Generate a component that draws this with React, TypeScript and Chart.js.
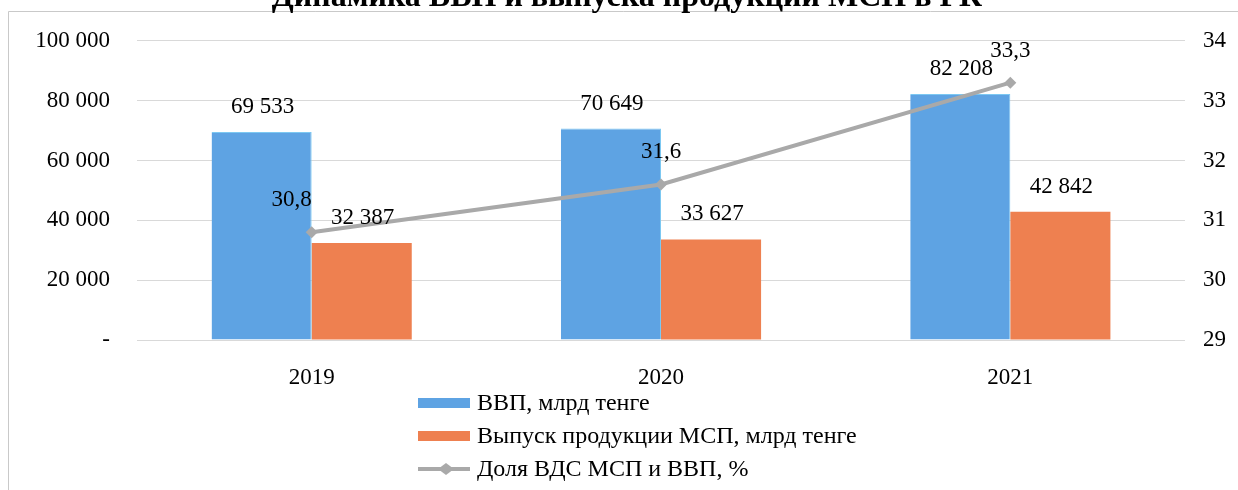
import React, { useEffect, useRef } from "react";
import { Chart, registerables } from "chart.js";

Chart.register(...registerables);

const TITLE = "Динамика ВВП и выпуска продукции МСП в РК";
const CATEGORIES = ["2019", "2020", "2021"];
const GDP = [69533, 70649, 82208];
const SME_OUTPUT = [32387, 33627, 42842];
const SME_SHARE = [30.8, 31.6, 33.3];
const SERIES_NAMES = [
  "ВВП, млрд тенге",
  "Выпуск продукции МСП, млрд тенге",
  "Доля ВДС МСП и ВВП, %",
];

const BLUE = "#5EA3E3";
const ORANGE = "#EE8050";
const GRAY = "#A9A9A9";
const FONT = '"Liberation Serif", "Times New Roman", serif';

const fmtThousands = (v: number) =>
  v === 0 ? "-" : Math.round(v).toString().replace(/\B(?=(\d{3})+(?!\d))/g, " ");
const fmtComma = (v: number) => v.toFixed(1).replace(".", ",");

const decorPlugin = {
  id: "decor",
  beforeDraw(chart: any) {
    const ctx = chart.ctx;
    ctx.save();
    ctx.fillStyle = "#ffffff";
    ctx.fillRect(0, 0, chart.width, chart.height);
    ctx.strokeStyle = "#C9C9C9";
    ctx.lineWidth = 1;
    ctx.beginPath();
    ctx.moveTo(8.5, chart.height);
    ctx.lineTo(8.5, 11.5);
    ctx.lineTo(chart.width, 11.5);
    ctx.stroke();
    ctx.restore();
  },
  afterDraw(chart: any) {
    const ctx = chart.ctx;
    ctx.save();
    ctx.fillStyle = "#000";
    ctx.font = `bold 32px ${FONT}`;
    ctx.textAlign = "center";
    ctx.textBaseline = "alphabetic";
    ctx.fillText(TITLE, 627, 6);

    ctx.font = `24px ${FONT}`;
    ctx.textAlign = "left";
    ctx.textBaseline = "middle";
    const lx = 418;
    const rows = [403, 436, 469];
    const colors = [BLUE, ORANGE];
    for (let i = 0; i < 2; i++) {
      ctx.fillStyle = colors[i];
      ctx.fillRect(lx, rows[i] - 5, 52, 10);
    }
    ctx.strokeStyle = GRAY;
    ctx.lineWidth = 4;
    ctx.beginPath();
    ctx.moveTo(lx, rows[2]);
    ctx.lineTo(lx + 52, rows[2]);
    ctx.stroke();
    ctx.fillStyle = GRAY;
    ctx.beginPath();
    const cx = lx + 28;
    ctx.moveTo(cx - 8, rows[2]);
    ctx.lineTo(cx, rows[2] - 6);
    ctx.lineTo(cx + 8, rows[2]);
    ctx.lineTo(cx, rows[2] + 6);
    ctx.closePath();
    ctx.fill();
    ctx.fillStyle = "#000";
    SERIES_NAMES.forEach((n, i) => ctx.fillText(n, lx + 59, rows[i] + 1));
    ctx.restore();
  },
  afterDatasetsDraw(chart: any) {
    const ctx = chart.ctx;
    ctx.save();
    ctx.fillStyle = "#000";
    ctx.font = `23px ${FONT}`;
    ctx.textAlign = "center";
    ctx.textBaseline = "middle";
    [0, 1].forEach((di) => {
      const meta = chart.getDatasetMeta(di);
      const vals = chart.data.datasets[di].data as number[];
      meta.data.forEach((el: any, j: number) => {
        ctx.fillText(fmtThousands(vals[j]), el.x + 1, el.y - 25);
      });
    });
    const lineMeta = chart.getDatasetMeta(2);
    const lineVals = chart.data.datasets[2].data as number[];
    const dx = [-20, 0, 0];
    lineMeta.data.forEach((el: any, j: number) => {
      ctx.fillText(fmtComma(lineVals[j]), el.x + dx[j], el.y - 32);
    });
    ctx.restore();
  },
};

export default function App() {
  const ref = useRef<HTMLCanvasElement>(null);
  useEffect(() => {
    const chart = new Chart(ref.current!, {
      type: "bar",
      data: {
        labels: CATEGORIES,
        datasets: [
          {
            label: SERIES_NAMES[0],
            data: GDP,
            backgroundColor: BLUE,
            borderColor: "#7CC8F2",
            borderWidth: { right: 1, top: 1, left: 0, bottom: 0 } as any,
            yAxisID: "y",
            order: 2,
            barPercentage: 1,
            categoryPercentage: 0.573,
          },
          {
            label: SERIES_NAMES[1],
            data: SME_OUTPUT,
            backgroundColor: ORANGE,
            yAxisID: "y",
            order: 2,
            barPercentage: 1,
            categoryPercentage: 0.573,
          },
          {
            type: "line" as any,
            label: SERIES_NAMES[2],
            data: SME_SHARE,
            borderColor: GRAY,
            backgroundColor: GRAY,
            borderWidth: 4,
            pointStyle: "rectRot",
            pointRadius: 6,
            pointBorderWidth: 0,
            yAxisID: "y1",
            order: 0,
          } as any,
        ],
      },
      options: {
        responsive: false,
        animation: false,
        layout: { padding: { top: 40, bottom: 105, left: 0, right: 0 } },
        plugins: {
          legend: { display: false },
          title: { display: false },
          tooltip: { enabled: false },
        },
        scales: {
          x: {
            grid: { display: false },
            border: { display: false },
            ticks: {
              color: "#000",
              font: { family: FONT, size: 23 },
              padding: 16,
            },
            afterFit: (s: any) => {
              s.height = 45;
            },
          },
          y: {
            position: "left",
            min: 0,
            max: 100000,
            grid: { color: "#D9D9D9", drawTicks: false },
            border: { display: false },
            ticks: {
              stepSize: 20000,
              color: "#000",
              font: { family: FONT, size: 23 },
              padding: 27,
              callback: (v: any) => fmtThousands(Number(v)),
            },
            afterFit: (s: any) => {
              s.width = 137;
            },
          },
          y1: {
            position: "right",
            min: 29,
            max: 34,
            grid: { display: false, drawTicks: false },
            border: { display: false },
            ticks: {
              stepSize: 1,
              color: "#000",
              font: { family: FONT, size: 23 },
              padding: 18,
            },
            afterFit: (s: any) => {
              s.width = 53;
            },
          },
        },
      },
      plugins: [decorPlugin],
    });
    return () => chart.destroy();
  }, []);
  return (
    <div style={{ position: "fixed", left: 0, top: 0, width: 1238, height: 490, background: "#fff" }}>
      <canvas ref={ref} width={1238} height={490} />
    </div>
  );
}
